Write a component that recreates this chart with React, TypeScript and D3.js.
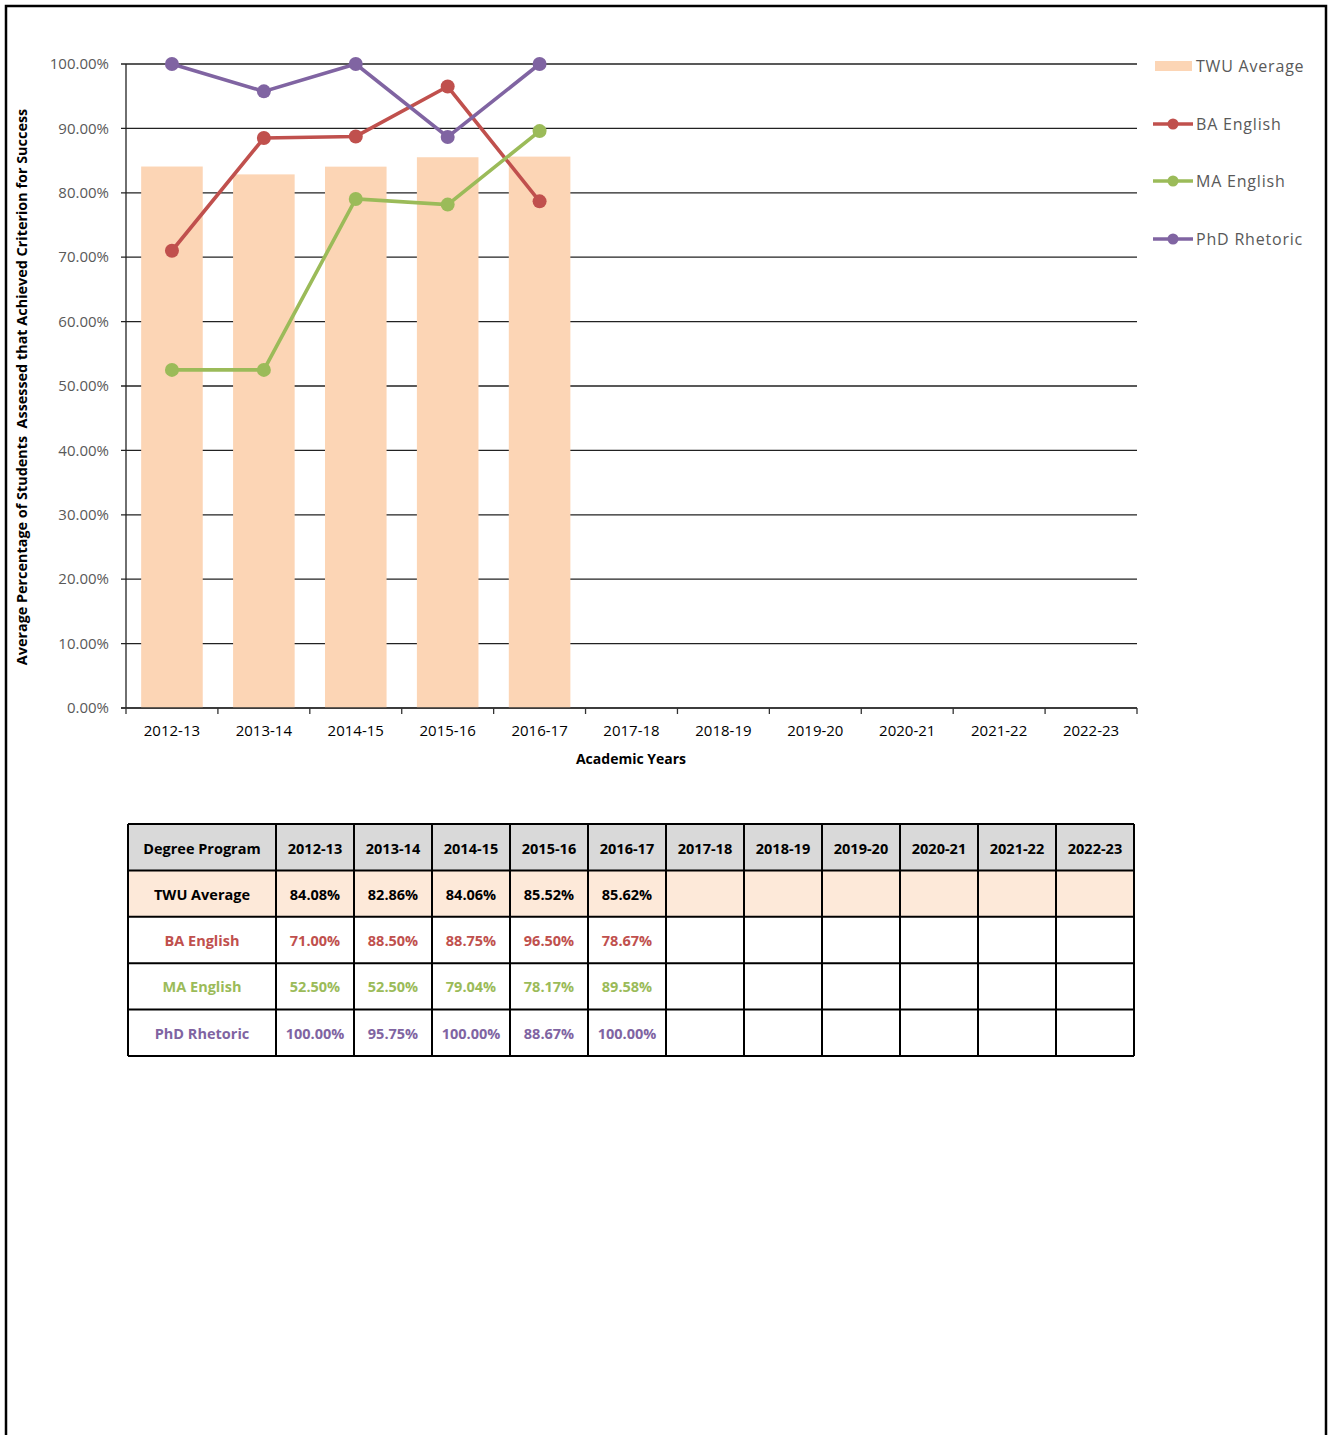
import React from "react";
import * as d3 from "d3";

// chart data
const years = [
  "2012-13", "2013-14", "2014-15", "2015-16", "2016-17", "2017-18",
  "2018-19", "2019-20", "2020-21", "2021-22", "2022-23",
];
const twuAverage = [84.08, 82.86, 84.06, 85.52, 85.62];
const baEnglish = [71.0, 88.5, 88.75, 96.5, 78.67];
const maEnglish = [52.5, 52.5, 79.04, 78.17, 89.58];
const phdRhetoric = [100.0, 95.75, 100.0, 88.67, 100.0];
const yTicks = [0, 10, 20, 30, 40, 50, 60, 70, 80, 90, 100];

const FONT = "'Open Sans', 'Noto Sans', sans-serif";
const BAR = "#FCD5B5";

interface LineSeries {
  name: string;
  values: number[];
  color: string;
}

const lineSeries: LineSeries[] = [
  { name: "BA English", values: baEnglish, color: "#C0504D" },
  { name: "MA English", values: maEnglish, color: "#9BBB59" },
  { name: "PhD Rhetoric", values: phdRhetoric, color: "#8064A2" },
];

const App: React.FC = () => {
  const width = 1328;
  const height = 1435;
  const plot = { left: 126, right: 1137, top: 64, bottom: 708 };

  const x = d3.scaleBand<string>().domain(years).range([plot.left, plot.right]);
  const y = d3.scaleLinear().domain([0, 100]).range([plot.bottom, plot.top]);
  const barW = x.bandwidth() * 0.67;
  const cx = (i: number) => (x(years[i]) as number) + x.bandwidth() / 2;

  const line = d3
    .line<number>()
    .x((_, i) => cx(i))
    .y((d) => y(d));

  const fmt = (v: number) => v.toFixed(2) + "%";

  // table layout
  const tLeft = 128;
  const firstCol = 148;
  const colW = 78;
  const tTop = 824;
  const rowH = 46.4;
  const tRight = tLeft + firstCol + colW * years.length;
  const rows = [
    { name: "TWU Average", values: twuAverage, color: "#000", fill: "#FDE9D9" },
    ...lineSeries.map((s) => ({ name: s.name, values: s.values, color: s.color, fill: "#fff" })),
  ];

  const legendItems = [
    { name: "TWU Average", y: 66, bar: true, color: BAR },
    { name: "BA English", y: 124, bar: false, color: lineSeries[0].color },
    { name: "MA English", y: 181, bar: false, color: lineSeries[1].color },
    { name: "PhD Rhetoric", y: 239, bar: false, color: lineSeries[2].color },
  ];

  return (
    <svg
      width={width}
      height={height}
      style={{ position: "absolute", left: 0, top: 0, background: "#fff" }}
      fontFamily={FONT}
    >
      {/* outer frame */}
      <path d={`M6,${height} V6 H1326 V${height}`} fill="none" stroke="#000" strokeWidth={2.5} />

      {/* gridlines */}
      {yTicks.map((t) => (
        <line key={"g" + t} x1={plot.left - 5} x2={plot.right} y1={y(t)} y2={y(t)} stroke="#222" strokeWidth={1.3} />
      ))}

      {/* bars */}
      {twuAverage.map((v, i) => (
        <rect key={"b" + i} x={cx(i) - barW / 2} y={y(v)} width={barW} height={y(0) - y(v)} fill={BAR} />
      ))}

      {/* axes */}
      <line x1={plot.left} x2={plot.left} y1={plot.top} y2={plot.bottom} stroke="#222" strokeWidth={1.3} />
      <line x1={plot.left - 5} x2={plot.right} y1={plot.bottom} y2={plot.bottom} stroke="#333" strokeWidth={1.6} />
      {years.map((yr) => (
        <line key={"xt" + yr} x1={x(yr) as number} x2={x(yr) as number} y1={plot.bottom} y2={plot.bottom + 6} stroke="#333" strokeWidth={1.3} />
      ))}
      <line x1={plot.right} x2={plot.right} y1={plot.bottom} y2={plot.bottom + 6} stroke="#333" strokeWidth={1.3} />

      {yTicks.map((t) => (
        <text key={"yl" + t} x={109} y={y(t)} dy="0.35em" textAnchor="end" fontSize={15} fill="#595959">
          {t.toFixed(2)}%
        </text>
      ))}
      {years.map((yr, i) => (
        <text key={"xl" + yr} x={cx(i)} y={731} dy="0.35em" textAnchor="middle" fontSize={15} fill="#000">
          {yr}
        </text>
      ))}
      <text x={631} y={759} dy="0.35em" textAnchor="middle" fontSize={14} fontWeight="bold" fill="#000">
        Academic Years
      </text>
      <text
        transform={`translate(22, 387) rotate(-90)`}
        textAnchor="middle"
        dy="0.35em"
        fontSize={14.4}
        fontWeight="bold"
        fill="#000"
        style={{ whiteSpace: "pre" }}
      >
        {"Average Percentage of Students  Assessed that Achieved Criterion for Success"}
      </text>

      {/* lines */}
      {lineSeries.map((s) => (
        <g key={s.name}>
          <path d={line(s.values) as string} fill="none" stroke={s.color} strokeWidth={3.6} />
          {s.values.map((v, i) => (
            <circle key={i} cx={cx(i)} cy={y(v)} r={7} fill={s.color} />
          ))}
        </g>
      ))}

      {/* legend */}
      {legendItems.map((it) => (
        <g key={it.name}>
          {it.bar ? (
            <rect x={1155} y={it.y - 5} width={37} height={10} fill={it.color} />
          ) : (
            <>
              <line x1={1153} x2={1193} y1={it.y} y2={it.y} stroke={it.color} strokeWidth={3.6} />
              <circle cx={1173} cy={it.y} r={5.5} fill={it.color} />
            </>
          )}
          <text x={1196} y={it.y} dy="0.35em" fontSize={16} letterSpacing={0.8} fill="#595959">
            {it.name}
          </text>
        </g>
      ))}

      {/* table */}
      <rect x={tLeft} y={tTop} width={tRight - tLeft} height={rowH} fill="#D9D9D9" />
      {rows.map((r, ri) => (
        <rect key={"rf" + ri} x={tLeft} y={tTop + rowH * (ri + 1)} width={tRight - tLeft} height={rowH} fill={r.fill} />
      ))}
      <text x={tLeft + firstCol / 2} y={tTop + rowH / 2 + 1.5} dy="0.35em" textAnchor="middle" fontSize={14.5} fontWeight="bold" fill="#000">
        Degree Program
      </text>
      {years.map((yr, i) => (
        <text key={"th" + yr} x={tLeft + firstCol + colW * (i + 0.5)} y={tTop + rowH / 2 + 1.5} dy="0.35em" textAnchor="middle" fontSize={14.5} fontWeight="bold" fill="#000">
          {yr}
        </text>
      ))}
      {rows.map((r, ri) => (
        <g key={"row" + ri}>
          <text x={tLeft + firstCol / 2} y={tTop + rowH * (ri + 1.5) + 1} dy="0.35em" textAnchor="middle" fontSize={14.5} fontWeight="bold" fill={r.color}>
            {r.name}
          </text>
          {r.values.map((v, i) => (
            <text key={i} x={tLeft + firstCol + colW * (i + 0.5)} y={tTop + rowH * (ri + 1.5) + 1} dy="0.35em" textAnchor="middle" fontSize={14.5} fontWeight="bold" fill={r.color}>
              {fmt(v)}
            </text>
          ))}
        </g>
      ))}
      {d3.range(rows.length + 2).map((k) => (
        <line key={"hl" + k} x1={tLeft} x2={tRight} y1={tTop + rowH * k} y2={tTop + rowH * k} stroke="#000" strokeWidth={2} />
      ))}
      {d3.range(years.length + 2).map((k) => {
        const xx = k === 0 ? tLeft : tLeft + firstCol + colW * (k - 1);
        return <line key={"vl" + k} x1={xx} x2={xx} y1={tTop} y2={tTop + rowH * (rows.length + 1)} stroke="#000" strokeWidth={2} />;
      })}
    </svg>
  );
};

export default App;
